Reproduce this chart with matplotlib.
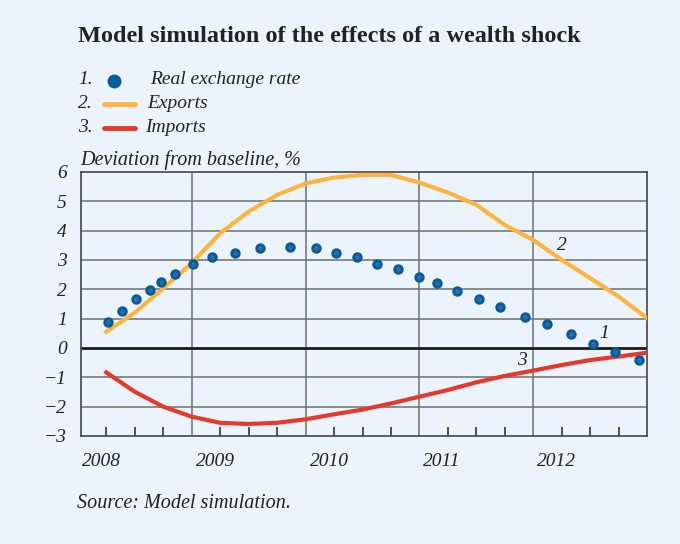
import matplotlib
matplotlib.use("Agg")
import matplotlib.pyplot as plt
from matplotlib.lines import Line2D
from matplotlib.ticker import FixedLocator

plt.rcParams['font.family'] = ['Liberation Serif', 'DejaVu Serif']

# quarterly simulation path, deviation from baseline in %
quarters = [2008.25, 2008.5, 2008.75, 2009.0, 2009.25, 2009.5, 2009.75, 2010.0,
            2010.25, 2010.5, 2010.75, 2011.0, 2011.25, 2011.5, 2011.75, 2012.0,
            2012.25, 2012.5, 2012.75, 2013.0]
exports = [0.55, 1.20, 2.03, 2.89, 3.91, 4.65, 5.22, 5.61, 5.81, 5.90,
           5.90, 5.64, 5.30, 4.88, 4.19, 3.68, 3.00, 2.38, 1.75, 1.01]
imports = [-0.83, -1.49, -2.00, -2.34, -2.55, -2.59, -2.55, -2.43, -2.26, -2.10,
           -1.89, -1.66, -1.43, -1.17, -0.95, -0.77, -0.58, -0.41, -0.29, -0.16]

# real exchange rate points
rer_x = [2008.27, 2008.39, 2008.51, 2008.63, 2008.73, 2008.85, 2009.01, 2009.18,
         2009.38, 2009.60, 2009.86, 2010.09, 2010.27, 2010.45, 2010.63, 2010.81,
         2011.00, 2011.15, 2011.33, 2011.52, 2011.71, 2011.93, 2012.12, 2012.33,
         2012.52, 2012.72, 2012.93]
rer_y = [0.90, 1.27, 1.68, 1.97, 2.26, 2.53, 2.86, 3.09, 3.23, 3.41, 3.45, 3.41,
         3.23, 3.09, 2.86, 2.70, 2.43, 2.20, 1.96, 1.67, 1.40, 1.06, 0.83, 0.49,
         0.15, -0.13, -0.41]

years = [2008, 2009, 2010, 2011, 2012]
yticks = [-3, -2, -1, 0, 1, 2, 3, 4, 5, 6]

BG = '#EBF4FC'
BLUE = '#0B5A9A'
ORANGE = '#FDB441'
RED = '#E5392B'
TXT = '#222222'
FS = 14

fig = plt.figure(figsize=(6.8, 5.44), dpi=100, facecolor=BG)
ax = fig.add_axes([80.7 / 680, 1 - 436 / 544, (647.3 - 80.7) / 680, (436 - 172) / 544])
ax.set_facecolor(BG)

ax.set_xlim(2008.026, 2013.0)
ax.set_ylim(-3, 6)

# grid
for y in yticks[1:-1]:
    if y == 0:
        continue
    ax.axhline(y, color='#6f6f6f', lw=1.1, zorder=1)
for yr in years[1:]:
    ax.axvline(yr, color='#6f6f6f', lw=1.1, zorder=1)
ax.axhline(0, color='#1a1a1a', lw=2, zorder=2)

for s in ax.spines.values():
    s.set_color('#444444')
    s.set_linewidth(1.2)

ax.plot(quarters, exports, color=ORANGE, lw=3, solid_joinstyle='miter', zorder=3)
ax.plot(quarters, imports, color=RED, lw=3, zorder=3)
ax.plot(rer_x, rer_y, 'o', color=BLUE, ms=6.5, mec=BLUE, zorder=4)
ax.plot(rer_x, rer_y, 'o', ms=2.2, mfc='none', mec='#4c86ba', mew=0.6, zorder=5)

# ticks
ax.set_yticks(yticks)
ax.set_yticklabels([str(v).replace('-', '\u2212') for v in yticks],
                   fontsize=FS, style='italic', color=TXT)
ax.tick_params(axis='y', length=0, pad=10)
ax.set_xticks([])
ax.xaxis.set_minor_locator(FixedLocator([q for q in quarters if q % 1 != 0]))
ax.tick_params(axis='x', which='minor', direction='in', length=6.5,
               width=1.2, color='#333333', bottom=True)
for yr in years:
    ax.text(yr + 0.035, -0.065, str(yr), transform=ax.get_xaxis_transform(),
            ha='left', va='top', fontsize=FS, style='italic', color=TXT)

# series numbers
ax.text(2012.25, 3.5, '2', fontsize=FS, style='italic', color=TXT, ha='center', va='center')
ax.text(2012.62, 0.5, '1', fontsize=FS, style='italic', color=TXT, ha='center', va='center')
ax.text(2011.9, -0.42, '3', fontsize=FS, style='italic', color=TXT, ha='center', va='center')

# titles
fig.text(78 / 680, 1 - 37 / 544, 'Model simulation of the effects of a wealth shock',
         fontsize=17.5, fontweight='bold', color=TXT, ha='left', va='center')
fig.text(80 / 680, 1 - 160 / 544, 'Deviation from baseline, %',
         fontsize=14.5, style='italic', color=TXT, ha='left', va='center')
fig.text(77 / 680, 1 - 504 / 544, 'Source: Model simulation.',
         fontsize=14.5, style='italic', color=TXT, ha='left', va='center')

# legend
leg_rows = [(80, '1.', 'Real exchange rate', 150),
            (104, '2.', 'Exports', 147),
            (128, '3.', 'Imports', 145)]
for yy, num, label, tx in leg_rows:
    fy = 1 - yy / 544
    fig.text(78 / 680, fy, num, fontsize=FS, style='italic', color=TXT, ha='left', va='center')
    fig.text(tx / 680, fy, label, fontsize=FS, style='italic', color=TXT, ha='left', va='center')
fig.add_artist(Line2D([114 / 680], [1 - 81 / 544], marker='o', ms=9, color=BLUE,
                      transform=fig.transFigure))
fig.add_artist(Line2D([104 / 680, 135 / 680], [1 - 104 / 544] * 2, color=ORANGE, lw=3.5,
                      solid_capstyle='round', transform=fig.transFigure))
fig.add_artist(Line2D([104 / 680, 135 / 680], [1 - 128 / 544] * 2, color=RED, lw=3.5,
                      solid_capstyle='round', transform=fig.transFigure))

fig.savefig('out.png', dpi=100, facecolor=BG)
